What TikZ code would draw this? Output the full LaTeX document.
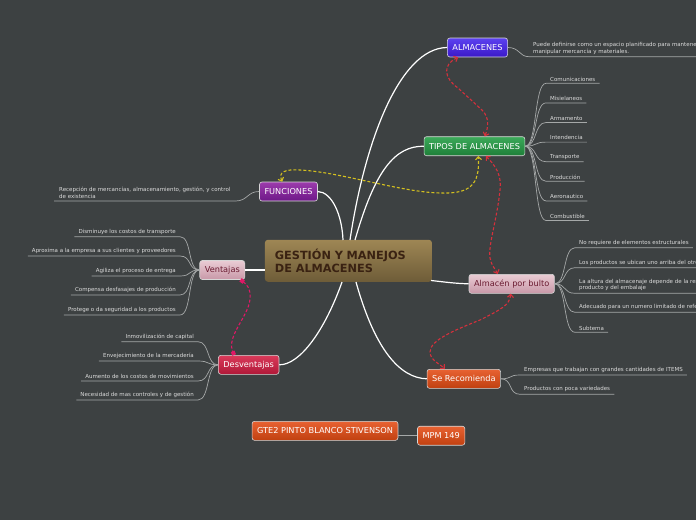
\documentclass[tikz,border=0pt]{standalone}
\usepackage{fontspec}
\setmainfont{DejaVu Sans}
\usetikzlibrary{arrows.meta,calc}
\definecolor{bg}{RGB}{61,65,66}
\definecolor{nodeborder}{RGB}{215,215,215}
\definecolor{branchcol}{RGB}{165,168,168}
\definecolor{leaftext}{RGB}{220,220,220}
\definecolor{redrel}{RGB}{214,48,60}
\definecolor{yelrel}{RGB}{212,192,32}
\definecolor{pinkrel}{RGB}{224,24,102}
\definecolor{centertop}{RGB}{158,134,84}
\definecolor{centerbot}{RGB}{110,92,56}
\definecolor{centertext}{RGB}{58,34,18}
\begin{document}
\begin{tikzpicture}[x=1pt,y=-1pt,
  topic/.style={draw=nodeborder, line width=0.6pt, rounded corners=2.5pt,
    minimum height=19pt, inner xsep=5pt, inner ysep=0pt,
    font=\fontsize{8.2}{9.5}\selectfont, text=white},
  bluebox/.style={topic, top color={rgb,255:red,92;green,66;blue,240}, bottom color={rgb,255:red,58;green,24;blue,200}},
  greenbox/.style={topic, top color={rgb,255:red,60;green,170;blue,90}, bottom color={rgb,255:red,30;green,126;blue,56}},
  purplebox/.style={topic, top color={rgb,255:red,156;green,60;blue,172}, bottom color={rgb,255:red,110;green,24;blue,136}},
  pinkbox/.style={topic, top color={rgb,255:red,234;green,204;blue,212}, bottom color={rgb,255:red,200;green,152;blue,168}, text={rgb,255:red,106;green,26;blue,48}},
  crimsonbox/.style={topic, top color={rgb,255:red,218;green,58;blue,90}, bottom color={rgb,255:red,176;green,24;blue,56}},
  orangebox/.style={topic, top color={rgb,255:red,232;green,98;blue,50}, bottom color={rgb,255:red,192;green,64;blue,16}},
  leaf/.style={inner xsep=4pt, inner ysep=2pt, font=\fontsize{5.5}{6.8}\selectfont, text=leaftext, align=left},
  branch/.style={draw=branchcol, line width=0.7pt},
  mainline/.style={draw=white, line width=1.2pt},
  rel/.style={dash pattern=on 3pt off 2pt, line width=1.1pt},
  arrowrel/.style={rel, {Straight Barb[length=3pt,width=6pt]}-{Straight Barb[length=3pt,width=6pt]}},
]
\clip (0,0) rectangle (696,520);
\fill[bg] (0,0) rectangle (696,520);

% main nodes
\node[draw=none, rounded corners=3pt, top color=centertop, bottom color=centerbot,
  text width=147pt, inner xsep=10pt, minimum height=42pt, align=left,
  font=\fontsize{11.3}{13.3}\selectfont\bfseries, text=centertext] (center) at (348.4,260.8)
  {GESTIÓN Y MANEJOS\\DE ALMACENES};
\node[bluebox] (alm) at (477.5,47.5) {ALMACENES};
\node[greenbox] (tipos) at (474.5,146.2) {TIPOS DE ALMACENES};
\node[purplebox] (func) at (288.5,191.5) {FUNCIONES};
\node[pinkbox] (vent) at (222.3,270) {Ventajas};
\node[crimsonbox] (desv) at (248.7,364.8) {Desventajas};
\node[pinkbox] (bulto) at (511.7,283.8) {Almacén por bulto};
\node[orangebox] (serec) at (463.8,378.8) {Se Recomienda};
\node[orangebox] (gte) at (325,430.8) {GTE2 PINTO BLANCO STIVENSON};
\node[orangebox] (mpm) at (441.2,435.7) {MPM 149};

% main connectors
\draw[mainline] (350,240) .. controls (365,140) and (400,48) .. (alm.west);
\draw[mainline] (355,240) .. controls (375,170) and (395,146) .. (tipos.west);
\draw[mainline] (343,240) .. controls (342,215) and (332,192) .. (func.east);
\draw[mainline] (vent.east) -- (center.west |- vent.east);
\draw[mainline] (342,282) .. controls (325,330) and (300,365) .. (desv.east);
\draw[mainline] (356,282) .. controls (375,350) and (400,378) .. (serec.west);
\draw[mainline] (431,280.5) .. controls (445,282) and (455,283.5) .. (bulto.west);
\draw[branch, line width=1pt] (mpm.west -| gte.east) -- (mpm.west);

% ALMACENES definition
\node[leaf, anchor=south west] (adef) at (529,56.7)
  {Puede definirse como un espacio planificado para mantener y\\manipular mercancía y materiales.};
\draw[branch] (alm.east) .. controls +(12,0) and +(-10,0) .. (adef.south west) -- (adef.south east);

% TIPOS leaves
\foreach \n/\y/\t in {t1/83.3/Comunicaciones, t2/102.9/Misielaneos, t3/122.5/Armamento,
  t4/142.1/Intendencia, t5/161.7/Transporte, t6/181.3/Producción, t7/200.9/Aeronautico,
  t8/220.5/Combustible}{
  \node[leaf, anchor=south west] (\n) at (546,\y) {\t};
  \draw[branch] (tipos.east) .. controls +(12,0) and +(-12,0) .. (\n.south west) -- (\n.south east);
}

% Almacen por bulto leaves
\foreach \n/\y/\t in {b1/247.7/{No requiere de elementos estructurales},
  b2/267.7/{Los productos se ubican uno arriba del otro},
  b3/293.3/{La altura del almacenaje depende de la resistencia del\\producto y del embalaje},
  b4/312.3/{Adecuado para un numero limitado de referencias},
  b5/332.3/{Subtema}}{
  \node[leaf, anchor=south west] (\n) at (575,\y) {\t};
  \draw[branch] (bulto.east) .. controls +(12,0) and +(-12,0) .. (\n.south west) -- (\n.south east);
}

% Se recomienda leaves
\foreach \n/\y/\t in {s1/375/{Empresas que trabajan con grandes cantidades de ITEMS},
  s2/394.3/{Productos con poca variedades}}{
  \node[leaf, anchor=south west] (\n) at (520,\y) {\t};
  \draw[branch] (serec.east) .. controls +(12,0) and +(-12,0) .. (\n.south west) -- (\n.south east);
}

% Funciones leaf
\node[leaf, anchor=south west, inner xsep=5pt] (f1) at (54,201)
  {Recepción de mercancías, almacenamiento, gestión, y control\\de existencia};
\draw[branch] (func.west) .. controls +(-12,0) and +(12,0) .. (f1.south east) -- (f1.south west);

% Ventajas leaves
\foreach \n/\y/\t in {v1/236.7/{Disminuye los costos de transporte},
  v2/256/{Aproxima a la empresa a sus clientes y proveedores},
  v3/276/{Agiliza el proceso de entrega},
  v4/295/{Compensa desfasajes de producción},
  v5/315/{Protege o da seguridad a los productos}}{
  \node[leaf, anchor=south east] (\n) at (180,\y) {\t};
  \draw[branch] (vent.west) .. controls +(-12,0) and +(12,0) .. (\n.south east) -- (\n.south west);
}

% Desventajas leaves
\foreach \n/\y/\t in {d1/341.7/{Inmovilización de capital},
  d2/361/{Envejecimiento de la mercadería},
  d3/381/{Aumento de los costos de movimientos},
  d4/400/{Necesidad de mas controles y de gestión}}{
  \node[leaf, anchor=south east] (\n) at (198,\y) {\t};
  \draw[branch] (desv.west) .. controls +(-12,0) and +(12,0) .. (\n.south east) -- (\n.south west);
}

% relationships
\draw[arrowrel, draw=redrel] ($(alm.south west)+(11,0)$)
  .. controls (442,65) and (444,78) .. (458,88)
  -- (482,110) .. controls (490,118) and (488,128) .. ($(tipos.north west)+(61,0)$);
\draw[arrowrel, draw=yelrel] ($(func.north west)+(23,0)$)
  .. controls (278,172) and (285,169) .. (300,170)
  .. controls (340,172) and (400,192) .. (440,193)
  .. controls (470,194) and (480,185) .. ($(tipos.south west)+(54.5,0)$);
\draw[arrowrel, draw=redrel] ($(tipos.south west)+(62,0)$)
  .. controls (495,165) and (502,175) .. (500,190)
  .. controls (497,220) and (488,245) .. (490,258)
  .. controls (491,265) and (496,270) .. ($(bulto.north west)+(29,0)$);
\draw[arrowrel, draw=redrel] ($(bulto.south west)+(42,0)$)
  .. controls (510,305) and (500,310) .. (480,320)
  .. controls (455,330) and (430,340) .. (430,352)
  .. controls (430,360) and (440,364) .. ($(serec.north west)+(18,0)$);
\draw[rel, draw=pinkrel, {Square[length=4pt,width=4pt]}-{Square[length=4pt,width=4pt]}]
  ($(vent.south west)+(41,0)$)
  .. controls (252,288) and (252,300) .. (246,312)
  .. controls (238,328) and (228,340) .. ($(desv.north west)+(16,0)$);
\end{tikzpicture}
\end{document}
